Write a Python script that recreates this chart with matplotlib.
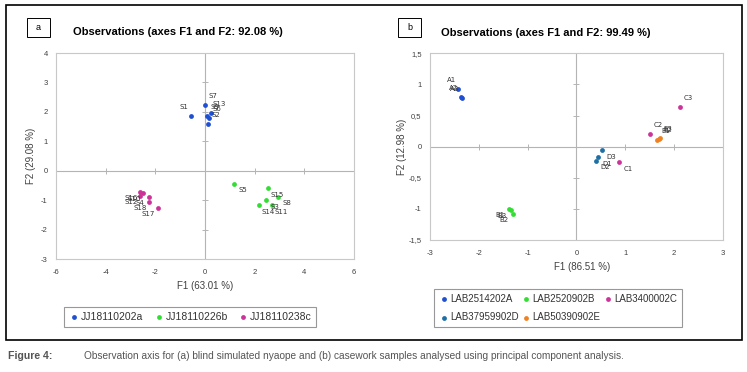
import numpy as np
import matplotlib
matplotlib.use('Agg')
import matplotlib.pyplot as plt
from matplotlib.patches import Rectangle
from matplotlib.ticker import FuncFormatter

# ---- panel a : blind simulated nyaope
a_names = ['JJ18110202a', 'JJ18110226b', 'JJ18110238c']
a_colors = ['#1f4fd2', '#33dd33', '#cc3399']
a_labels = [['S1', 'S7', 'S13', 'S9', 'S6', 'S2'],
            ['S5', 'S15', 'S8', 'S3', 'S14', 'S11'],
            ['S16', 'S10', 'S12', 'S4', 'S18', 'S17']]
a_x = [[-0.58, -0.02, 0.24, 0.07, 0.16, 0.11],
       [1.16, 2.54, 2.94, 2.45, 2.19, 2.71],
       [-2.62, -2.50, -2.62, -2.26, -2.25, -1.91]]
a_y = [[1.87, 2.23, 1.96, 1.85, 1.78, 1.59],
       [-0.44, -0.60, -0.88, -1.01, -1.17, -1.17],
       [-0.73, -0.77, -0.85, -0.91, -1.08, -1.25]]
a_xticks = [-6, -4, -2, 0, 2, 4, 6]
a_yticks = [-3, -2, -1, 0, 1, 2, 3, 4]

# ---- panel b : casework samples
b_names = ['LAB2514202A', 'LAB2520902B', 'LAB3400002C', 'LAB37959902D', 'LAB50390902E']
b_colors = ['#1f4fd2', '#33dd33', '#cc3399', '#1d6fa5', '#f08020']
b_labels = [['A1', 'A2', 'A3'], ['B1', 'B3', 'B2'], ['C1', 'C2', 'C3'],
            ['D3', 'D1', 'D2'], ['E1', 'E2', 'E3']]
b_x = [[-2.42, -2.37, -2.35], [-1.38, -1.34, -1.30], [0.875, 1.51, 2.12],
       [0.53, 0.45, 0.40], [1.66, 1.70, 1.72]]
b_y = [[0.93, 0.79, 0.78], [-0.995, -1.02, -1.08], [-0.25, 0.20, 0.63],
       [-0.06, -0.17, -0.23], [0.11, 0.12, 0.14]]
b_xticks = [-3, -2, -1, 0, 1, 2, 3]
b_yticks = [-1.5, -1, -0.5, 0, 0.5, 1, 1.5]

# label placement (direction of the label from its point)
a_dirs = [['ul', 'ur', 'ur', 'ur', 'ur', 'ur'], ['dr'] * 6, ['dl'] * 6]
b_dirs = [['ul'] * 3, ['dl'] * 3, ['dr', 'ur', 'ur'], ['dr'] * 3, ['ur'] * 3]
offs = {'ur': (8, 9), 'ul': (-7, 9), 'dr': (9, -6.5), 'dl': (-9, -6)}

plt.rcParams['font.family'] = ['Liberation Sans', 'DejaVu Sans']
plt.rcParams['axes.unicode_minus'] = False

W, H = 747, 372
fig = plt.figure(figsize=(W / 100, H / 100), dpi=100)


def fx(px):
    return px / W


def fy(py):
    return 1 - py / H


def panel(rect, names, colors, xs, ys, labels, dirs, xticks, yticks, fmt):
    ax = fig.add_axes(rect)
    handles = []
    for name, c, x, y, labs, dd in zip(names, colors, xs, ys, labels, dirs):
        h = ax.scatter(x, y, s=12, color=c, zorder=3, label=name, linewidths=0)
        handles.append(h)
        for xi, yi, lab, d in zip(x, y, labs, dd):
            ax.annotate(lab, (xi, yi), xytext=offs[d], textcoords='offset pixels',
                        ha='center', va='center', fontsize=5, color='#333333',
                        family='DejaVu Sans', zorder=4)
    ax.set_xlim(xticks[0], xticks[-1])
    ax.set_ylim(yticks[0], yticks[-1])
    ax.set_xticks(xticks)
    ax.set_yticks(yticks)
    ax.xaxis.set_major_formatter(FuncFormatter(fmt))
    ax.yaxis.set_major_formatter(FuncFormatter(fmt))
    ax.tick_params(length=0, labelsize=5.5, labelcolor='#404040')
    ax.tick_params(axis='x', pad=7)
    ax.tick_params(axis='y', pad=6)
    for sp in ax.spines.values():
        sp.set_color('#c8c8c8')
        sp.set_linewidth(0.8)
    ax.axhline(0, color='#b4b4b4', lw=0.8, zorder=1)
    ax.axvline(0, color='#b4b4b4', lw=0.8, zorder=1)
    # small tick marks on the zero axes
    ax.plot(xticks, [0] * len(xticks), ls='none', marker='|', ms=4, mew=0.7,
            color='#b4b4b4', zorder=1, clip_on=False)
    ax.plot([0] * len(yticks), yticks, ls='none', marker='_', ms=4, mew=0.7,
            color='#b4b4b4', zorder=1, clip_on=False)
    return ax, handles


def dot_fmt(v, pos):
    return f'{v:g}'


def comma_fmt(v, pos):
    return f'{v:g}'.replace('.', ',')


# outer frame
fig.add_artist(Rectangle((fx(6), fy(340)), fx(742) - fx(6), fy(5) - fy(340),
                         transform=fig.transFigure, fill=False, ec='black', lw=1.2))

# panel a
axa, ha = panel([fx(56), fy(259), fx(354) - fx(56), fy(53) - fy(259)],
                a_names, a_colors, a_x, a_y, a_labels, a_dirs,
                a_xticks, a_yticks, dot_fmt)
fig.text(fx(205), fy(286), 'F1 (63.01 %)', ha='center', va='center',
         fontsize=7, color='#404040')
fig.text(fx(31), fy(156), 'F2 (29.08 %)', ha='center', va='center',
         fontsize=7, color='#404040', rotation=90)
fig.text(fx(73), fy(32), 'Observations (axes F1 and F2: 92.08 %)', ha='left',
         va='center', fontsize=8, fontweight='bold')
fig.add_artist(Rectangle((fx(27), fy(37)), fx(50) - fx(27), fy(18) - fy(37),
                         transform=fig.transFigure, fill=False, ec='black', lw=0.7))
fig.text(fx(38.5), fy(27.5), 'a', ha='center', va='center', fontsize=6.5)
leg = fig.legend(handles=ha, loc='center', bbox_to_anchor=(fx(190), fy(317)),
                 ncol=3, fontsize=7.5, frameon=True, fancybox=False,
                 handletextpad=0.1, columnspacing=0.9, borderpad=0.45,
                 handlelength=1.1, markerscale=1.0)
leg.get_frame().set_edgecolor('#7f7f7f')
leg.get_frame().set_linewidth(0.8)
for t in leg.get_texts():
    t.set_color('#333333')

# panel b
axb, hb = panel([fx(430), fy(240), fx(722.7) - fx(430), fy(53.3) - fy(240)],
                b_names, b_colors, b_x, b_y, b_labels, b_dirs,
                b_xticks, b_yticks, comma_fmt)
fig.text(fx(582), fy(267), 'F1 (86.51 %)', ha='center', va='center',
         fontsize=7, color='#404040')
fig.text(fx(402), fy(147), 'F2 (12.98 %)', ha='center', va='center',
         fontsize=7, color='#404040', rotation=90)
fig.text(fx(441), fy(33), 'Observations (axes F1 and F2: 99.49 %)', ha='left',
         va='center', fontsize=8, fontweight='bold')
fig.add_artist(Rectangle((fx(398), fy(37)), fx(421) - fx(398), fy(18) - fy(37),
                         transform=fig.transFigure, fill=False, ec='black', lw=0.7))
fig.text(fx(409.5), fy(27.5), 'b', ha='center', va='center', fontsize=6.5)
# row-wise order for a 3-column legend
order = [0, 3, 1, 4, 2]
legb = fig.legend(handles=[hb[i] for i in order], loc='center',
                  bbox_to_anchor=(fx(558), fy(308)), ncol=3, fontsize=7,
                  frameon=True, fancybox=False, handletextpad=0.1,
                  columnspacing=0.3, borderpad=0.5, handlelength=1.0,
                  labelspacing=0.9)
legb.get_frame().set_edgecolor('#7f7f7f')
legb.get_frame().set_linewidth(0.8)
for t in legb.get_texts():
    t.set_color('#333333')

# caption
fig.text(fx(8), fy(356), 'Figure 4:', ha='left', va='center', fontsize=7.6,
         fontweight='bold', color='#555555')
fig.text(fx(84), fy(356),
         'Observation axis for (a) blind simulated nyaope and (b) casework '
         'samples analysed using principal component analysis.',
         ha='left', va='center', fontsize=7.3, color='#555555')

fig.savefig('out.png', dpi=100)
